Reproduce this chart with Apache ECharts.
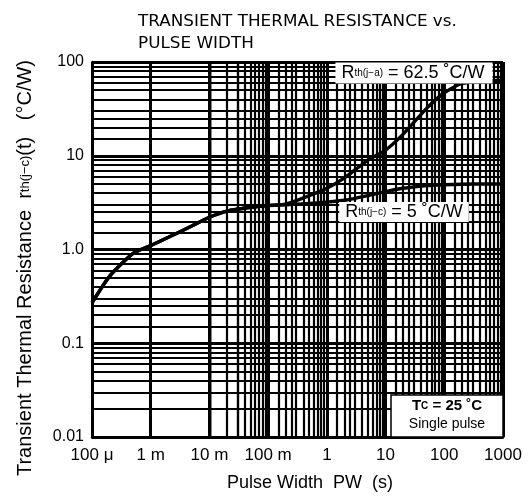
<!DOCTYPE html>
<html><head><meta charset="utf-8">
<script src="https://cdn.jsdelivr.net/npm/echarts@6/dist/echarts.min.js"></script>
<style>html,body{margin:0;padding:0;background:#fff}#c{width:529px;height:503px}</style>
</head><body><div id="c"></div>
<script>
// ---- data ----
const pulseWidth = [1e-4,2e-4,5e-4,1e-3,2e-3,5e-3,1e-2,2e-2,5e-2,0.1,0.2,0.5,1,2,5,10,20,50,100,200,500,1000];
const rthJA = [0.27,0.52,0.91,1.1,1.35,1.78,2.21,2.57,2.82,2.95,3.05,3.75,4.5,5.8,9.0,11.5,17,32,47,59,63,64];
const rthJC = [0.27,0.52,0.91,1.1,1.35,1.78,2.21,2.57,2.82,2.95,3.0,3.1,3.2,3.35,3.75,4.15,4.5,4.8,4.9,4.97,5.0,5.0];
const xTickLabels = ['100 μ','1 m','10 m','100 m','1','10','100','1000'];
const yTickLabels = ['0.01','0.1','1.0','10','100'];
const gridMultipliers = [1.5,2,2.5,3,4,5,6,7,8,9];
const xDecades = [-4,-3,-2,-1,0,1,2];
const yDecades = [-2,-1,0,1];

const FONT = 'Liberation Sans';
const minorX = [], minorY = [];
xDecades.forEach(d => gridMultipliers.forEach(m => minorX.push({xAxis: m * Math.pow(10, d)})));
yDecades.forEach(d => gridMultipliers.forEach(m => minorY.push({yAxis: m * Math.pow(10, d)})));

const chart = echarts.init(document.getElementById('c'), null, {renderer: 'canvas'});
const lbl = (arr, off) => v => arr[Math.round(Math.log10(v)) + off] || '';

chart.setOption({
  animation: false,
  backgroundColor: '#fff',
  grid: {left: 92, right: 26, top: 62, bottom: 66},
  xAxis: {
    type: 'log', logBase: 10, min: 1e-4, max: 1000, interval: 1,
    axisLine: {show: true, lineStyle: {color: '#000', width: 2.5}},
    axisTick: {show: false},
    splitLine: {show: true, lineStyle: {color: '#000', width: 3}},
    axisLabel: {formatter: lbl(xTickLabels, 4), color: '#000', fontFamily: FONT, fontSize: 17, margin: 10, showMinLabel: true, showMaxLabel: true}
  },
  yAxis: {
    type: 'log', logBase: 10, min: 0.01, max: 100, interval: 1,
    axisLine: {show: true, lineStyle: {color: '#000', width: 2.5}},
    axisTick: {show: false},
    splitLine: {show: true, lineStyle: {color: '#000', width: 3}},
    axisLabel: {formatter: lbl(yTickLabels, 2), color: '#000', fontFamily: FONT, fontSize: 16, margin: 8}
  },
  series: [
    {
      type: 'line', name: 'grid', data: [[1, 1]], symbol: 'none', silent: true, z: 1,
      lineStyle: {opacity: 0},
      markLine: {
        silent: true, symbol: ['none', 'none'], animation: false,
        label: {show: false},
        lineStyle: {color: '#000', width: 2.2, type: 'solid'},
        emphasis: {disabled: true},
        data: minorX.concat(minorY)
      }
    },
    {
      type: 'line', name: 'Rth(j-c) = 5 °C/W', z: 5, symbol: 'none', smooth: 0.2,
      lineStyle: {color: '#000', width: 3.4},
      data: pulseWidth.map((x, i) => [x, rthJC[i]])
    },
    {
      type: 'line', name: 'Rth(j-a) = 62.5 °C/W', z: 5, symbol: 'none', smooth: 0.2,
      lineStyle: {color: '#000', width: 3.4},
      data: pulseWidth.map((x, i) => [x, rthJA[i]])
    }
  ],
  graphic: [
    {type: 'text', x: 138, y: 15, scaleX: 1.12, z: 10, style: {text: 'TRANSIENT THERMAL RESISTANCE vs.', font: '15px "DejaVu Sans"', fill: '#000'}},
    {type: 'text', x: 138, y: 37, scaleX: 1.12, z: 10, style: {text: 'PULSE WIDTH', font: '15px "DejaVu Sans"', fill: '#000'}},
    {type: 'text', x: 310, y: 483, z: 10, style: {text: 'Pulse Width  PW  (s)', font: '18px ' + FONT, fill: '#000', align: 'center', verticalAlign: 'middle'}},
    {type: 'text', x: 25, y: 268, rotation: Math.PI / 2, z: 10, style: {
      text: '{a|Transient Thermal Resistance  r}{s|th(j−c)}{a|(t)   (°C/W)}',
      align: 'center', verticalAlign: 'middle',
      rich: {a: {fontSize: 20, fontFamily: FONT, color: '#000'}, s: {fontSize: 13, fontFamily: FONT, color: '#000'}}
    }},
    {type: 'text', x: 414, y: 73, z: 20, style: {
      text: '{a|R}{s|th(j−a)}{a| = 62.5 ˚C/W}',
      align: 'center', verticalAlign: 'middle', backgroundColor: '#fff', padding: [2, 8, 1, 6],
      rich: {a: {fontSize: 18, fontFamily: FONT, color: '#000'}, s: {fontSize: 10, fontFamily: FONT, color: '#000'}}
    }},
    {type: 'text', x: 404, y: 212, z: 20, style: {
      text: '{a|R}{s|th(j−c)}{a| = 5 ˚C/W}',
      align: 'center', verticalAlign: 'middle', backgroundColor: '#fff', padding: [1, 6, 1, 6],
      rich: {a: {fontSize: 18, fontFamily: FONT, color: '#000'}, s: {fontSize: 10, fontFamily: FONT, color: '#000'}}
    }},
    {type: 'rect', z: 20, shape: {x: 391, y: 395, width: 112, height: 42}, style: {fill: '#fff', stroke: '#000', lineWidth: 1.5}},
    {type: 'text', x: 447, y: 406, z: 21, style: {
      text: '{a|T}{s|C}{a| = 25 ˚C}', align: 'center', verticalAlign: 'middle',
      rich: {a: {fontSize: 15, fontWeight: 'bold', fontFamily: FONT, color: '#000'}, s: {fontSize: 10, fontWeight: 'bold', fontFamily: FONT, color: '#000'}}
    }},
    {type: 'text', x: 447, y: 424, z: 21, style: {text: 'Single pulse', font: '14px ' + FONT, fill: '#000', align: 'center', verticalAlign: 'middle'}}
  ]
});
</script>
</body></html>
